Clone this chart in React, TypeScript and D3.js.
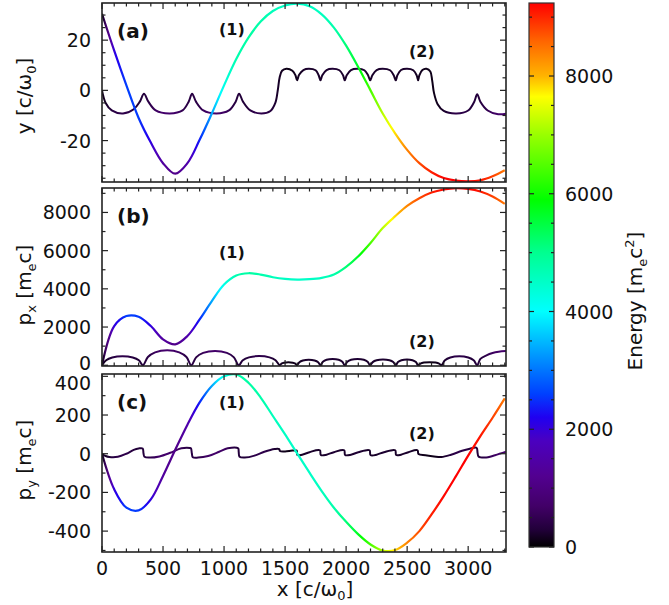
import React from 'react';
import * as d3 from 'd3';

// sample positions along x [c/w0] for particle (1)
const xGrid = [0, 100, 200, 300, 400, 500, 600, 700, 800, 900, 1000, 1100, 1200, 1300, 1400, 1500, 1600,
  1700, 1800, 1900, 2000, 2100, 2200, 2300, 2400, 2500, 2600, 2700, 2800, 2900, 3000, 3100, 3200, 3300];

// particle (1): y, px, py
const y1 = [30.5, 15.8, 2, -11, -20.8, -29, -33.2, -29, -19.7, -9.2, 2, 12.5, 21, 27.4, 31.6, 33.8, 34.5,
  33.5, 30.3, 25, 17.8, 9.2, 0, -9.2, -17, -23.7, -29, -32.6, -34.9, -35.9, -36.2, -35.8, -34.2, -31.8];
const px1 = [0, 2050, 2574, 2540, 2052, 1357, 1096, 1530, 2400, 3357, 4226, 4696, 4817, 4748, 4609, 4522, 4487,
  4504, 4574, 4748, 5148, 5704, 6400, 7183, 7791, 8348, 8748, 9043, 9200, 9270, 9235, 9096, 8835, 8452];
const py1 = [0, -184, -279, -293, -236, -115, 20, 150, 265, 350, 400, 410, 367, 290, 195, 100, 0,
  -98, -193, -279, -352, -417, -469, -500, -498, -460, -400, -314, -219, -116, -10, 91, 186, 286];

// particle (2): [x, value] pairs
const y2: [number, number][] = [
  [0, 0], [30, -5], [80, -8], [172, -9.2], [260, -7.5], [310, -4.5], [344, -1.3], [380, -4.5], [440, -8],
  [555, -9.2], [660, -8], [710, -4.5], [738, -1.3], [770, -4.5], [830, -8], [937, -9.2], [1040, -8],
  [1095, -4.5], [1123, -1.3], [1155, -4.5], [1215, -8], [1306, -9.2], [1380, -8.2], [1420, -5], [1440, 0],
  [1455, 5], [1475, 7.8], [1511, 8.6], [1560, 7.8], [1585, 6], [1598, 4], [1615, 6.2], [1650, 8.1],
  [1695, 8.6], [1750, 8], [1775, 6], [1790, 4], [1805, 6], [1840, 8.1], [1890, 8.6], [1945, 8], [1975, 6],
  [1989, 4], [2005, 6], [2040, 8.1], [2095, 8.6], [2150, 8], [2180, 6], [2197, 4], [2215, 6], [2250, 8.1],
  [2300, 8.6], [2360, 8], [2390, 6], [2407, 4], [2420, 6], [2450, 8.1], [2500, 8.6], [2550, 8], [2578, 6],
  [2590, 4], [2600, 6], [2625, 8.1], [2658, 8.6], [2690, 7.5], [2705, 4], [2720, -1], [2750, -5.5],
  [2800, -8.2], [2904, -9.2], [3000, -8], [3050, -4.5], [3074, -1.5], [3100, -4.5], [3160, -8],
  [3246, -9.5], [3310, -9.3]];

const px2: [number, number][] = [
  [0, 0], [34, 260], [84, 404], [168, 470], [252, 404], [302, 260], [336, 0],
  [376, 430], [435, 670], [534, 780], [633, 670], [692, 430], [732, 0],
  [771, 410], [829, 645], [926, 750], [1023, 645], [1081, 410], [1120, 0],
  [1154, 265], [1204, 413], [1288, 480], [1372, 413], [1422, 265], [1456, 0],
  [1470, 80], [1491, 130], [1527, 150], [1563, 130], [1584, 80], [1598, 0],
  [1617, 160], [1646, 250], [1694, 290], [1742, 250], [1771, 160], [1790, 0],
  [1810, 180], [1840, 285], [1890, 330], [1939, 285], [1969, 180], [1989, 0],
  [2010, 180], [2041, 285], [2093, 330], [2145, 285], [2176, 180], [2197, 0],
  [2218, 165], [2250, 258], [2302, 300], [2355, 258], [2386, 165], [2407, 0],
  [2425, 165], [2453, 258], [2499, 300], [2544, 258], [2572, 165], [2590, 0],
  [2609, 88], [2638, 138], [2686, 160], [2733, 138], [2762, 88], [2781, 0],
  [2810, 260], [2854, 404], [2928, 470], [3001, 404], [3045, 260], [3074, 0],
  [3100, 330], [3150, 520], [3200, 640], [3250, 705], [3310, 740]];

const py2: [number, number][] = [
  [0, 0], [30, -12], [60, -17], [130, -16], [200, 0], [260, 20], [300, 27], [333, 27], [340, 2], [348, -16],
  [390, -20], [470, -14], [560, 5], [650, 28], [720, 30], [729, 28], [736, 2], [744, -18], [787, -20],
  [870, -12], [960, 10], [1030, 28], [1115, 28], [1120, 10], [1127, -16], [1170, -20], [1250, -10],
  [1330, 10], [1415, 24], [1452, 24], [1458, 14], [1500, 12], [1560, 16], [1595, 16], [1601, -7],
  [1640, -5], [1700, 8], [1785, 18], [1793, -7], [1840, -5], [1900, 8], [1984, 18], [1992, -7],
  [2040, -5], [2100, 8], [2192, 18], [2200, -7], [2250, -5], [2310, 8], [2402, 18], [2410, -7],
  [2450, -5], [2510, 8], [2585, 18], [2593, -2], [2650, -8], [2720, -14], [2781, -17], [2860, -5],
  [2950, 15], [3040, 30], [3070, 30], [3077, 5], [3085, -14], [3137, -20], [3220, -8], [3310, 10]];

// axis ticks
const xTickLabels = [0, 500, 1000, 1500, 2000, 2500, 3000];
const yTicksA = [-20, 0, 20];
const yTicksB = [0, 2000, 4000, 6000, 8000];
const yTicksC = [-400, -200, 0, 200, 400];
const cbarTicks = [0, 2000, 4000, 6000, 8000];

// colour table (energy -> colour)
const cbarValues = [0, 300, 700, 1200, 1800, 2200, 2600, 3200, 4000, 5000, 5900, 7000, 7650, 8000, 8600, 9240];
const cbarColors = ['#000000', '#22003a', '#420068', '#520090', '#4b00c0', '#2000f0', '#0040ff', '#0090ff',
  '#00ffff', '#00ff90', '#00ff00', '#99ff00', '#ffff00', '#ffb400', '#ff6400', '#ff0000'];

const FONT = 'DejaVu Sans, Verdana, sans-serif';
const XMAX = 3310;

const interpAt = (pts: [number, number][], x: number) => {
  const i = d3.bisector((d: [number, number]) => d[0]).right(pts, x);
  if (i <= 0) return pts[0][1];
  if (i >= pts.length) return pts[pts.length - 1][1];
  const [x0, v0] = pts[i - 1];
  const [x1, v1] = pts[i];
  return v0 + ((v1 - v0) * (x - x0)) / (x1 - x0);
};

export default function App() {
  const xs = d3.scaleLinear().domain([0, XMAX]).range([102, 506]);
  const colorOf = d3.scaleLinear<string>().domain(cbarValues).range(cbarColors)
    .interpolate(d3.interpolateRgb).clamp(true);

  const p1x = xGrid.map((x, i) => [x, px1[i]] as [number, number]);
  const p1y = xGrid.map((x, i) => [x, py1[i]] as [number, number]);
  const energy1 = (x: number) => Math.sqrt(1 + interpAt(p1x, x) ** 2 + interpAt(p1y, x) ** 2);
  const energy2raw = (x: number) => Math.sqrt(1 + interpAt(px2, x) ** 2 + interpAt(py2, x) ** 2);
  // soften the colour so the cusps don't flash black
  const energy2 = (x: number) => d3.mean(d3.range(x - 80, x + 81, 10), (t) => energy2raw(t)) || 0;
  const stopXs = d3.range(0, XMAX + 1, 10);

  const panels = [
    { id: 'a', top: 3, bottom: 182, domain: [-36.5, 34.8], majors: yTicksA, minorStep: 5,
      c1: xGrid.map((x, i) => [x, y1[i]] as [number, number]), c2: y2,
      letter: '(a)', l1: 35, l2: 57, titleY: 96, title: ['y [c/\u03c9', '0', ']'] },
    { id: 'b', top: 188, bottom: 366, domain: [-40, 9280], majors: yTicksB, minorStep: 1000,
      c1: p1x, c2: px2, letter: '(b)', l1: 258, l2: 347, titleY: 285, title: ['p', 'x', ' [m', 'e', 'c]'] },
    { id: 'c', top: 374, bottom: 552, domain: [-508, 412], majors: yTicksC, minorStep: 100,
      c1: p1y, c2: py2, letter: '(c)', l1: 408, l2: 439, titleY: 460, title: ['p', 'y', ' [m', 'e', 'c]'] },
  ];

  const xMinor = d3.range(0, XMAX, 100);
  const cb = d3.scaleLinear().domain([0, 9240]).range([547, 3]);
  const cbMinor = d3.range(0, 9240, 500);

  return (
    <svg width={669} height={605} style={{ position: 'absolute', left: 0, top: 0, background: '#fff' }}
      fontFamily={FONT}>
      <defs>
        <linearGradient id="grad1" gradientUnits="userSpaceOnUse" x1={xs(0)} x2={xs(XMAX)} y1={0} y2={0}>
          {stopXs.map((x) => <stop key={x} offset={x / XMAX} stopColor={colorOf(energy1(x))} />)}
        </linearGradient>
        <linearGradient id="grad2" gradientUnits="userSpaceOnUse" x1={xs(0)} x2={xs(XMAX)} y1={0} y2={0}>
          {stopXs.map((x) => <stop key={x} offset={x / XMAX} stopColor={colorOf(energy2(x))} />)}
        </linearGradient>
        <linearGradient id="cbar" gradientUnits="userSpaceOnUse" x1={0} x2={0} y1={cb(0)} y2={cb(9240)}>
          {cbarValues.map((v, i) => <stop key={v} offset={v / 9240} stopColor={cbarColors[i]} />)}
        </linearGradient>
        {panels.map((p) => (
          <clipPath key={p.id} id={'clip-' + p.id}>
            <rect x={102} y={p.top} width={404} height={p.bottom - p.top} />
          </clipPath>
        ))}
      </defs>

      {panels.map((p) => {
        const ys = d3.scaleLinear().domain(p.domain).range([p.bottom, p.top]);
        const line = d3.line<[number, number]>().x((d) => xs(d[0])).y((d) => ys(d[1]))
          .curve(d3.curveCatmullRom.alpha(0.5));
        const yMinor = d3.range(Math.ceil(p.domain[0] / p.minorStep) * p.minorStep, p.domain[1], p.minorStep);
        const isMajorY = (v: number) => p.majors.includes(v);
        const isMajorX = (v: number) => v % 500 === 0;
        return (
          <g key={p.id}>
            <g clipPath={`url(#clip-${p.id})`}>
              <path d={line(p.c2) || ''} fill="none" stroke="url(#grad2)" strokeWidth={2} />
              <path d={line(p.c1) || ''} fill="none" stroke="url(#grad1)" strokeWidth={2.2} />
            </g>
            {/* x ticks, top and bottom */}
            {xMinor.map((v) => {
              const len = isMajorX(v) ? 6 : 3.5;
              return (
                <g key={'x' + v} stroke="#222" strokeWidth={1.2}>
                  <line x1={xs(v)} x2={xs(v)} y1={p.bottom} y2={p.bottom - len} />
                  <line x1={xs(v)} x2={xs(v)} y1={p.top} y2={p.top + len} />
                </g>
              );
            })}
            {/* y ticks, left and right */}
            {yMinor.map((v) => {
              const len = isMajorY(v) ? 6 : 3.5;
              return (
                <g key={'y' + v} stroke="#222" strokeWidth={1.2}>
                  <line x1={102} x2={102 + len} y1={ys(v)} y2={ys(v)} />
                  <line x1={506} x2={506 - len} y1={ys(v)} y2={ys(v)} />
                </g>
              );
            })}
            <rect x={102} y={p.top} width={404} height={p.bottom - p.top} fill="none" stroke="#222"
              strokeWidth={1.6} />
            {p.majors.map((v) => (
              <text key={'l' + v} x={91} y={Math.min(Math.max(ys(v), p.top + 9), p.bottom - 3)}
                textAnchor="end" dominantBaseline="central" fontSize={19} fill="#111">{v}</text>
            ))}
            <text x={117} y={p.top + 35} fontSize={20} fontWeight="bold" fill="#111">{p.letter}</text>
            <text x={219} y={p.l1} fontSize={16} fontWeight="bold" fill="#111">(1)</text>
            <text x={409} y={p.l2} fontSize={16} fontWeight="bold" fill="#111">(2)</text>
            <text transform={`translate(31,${p.titleY}) rotate(-90)`} textAnchor="middle" fontSize={20}
              fill="#111">
              {p.title.length === 3 ? (
                <>
                  {p.title[0]}
                  <tspan dy={5} fontSize={13}>{p.title[1]}</tspan>
                  <tspan dy={-5}>{p.title[2]}</tspan>
                </>
              ) : (
                <>
                  {p.title[0]}
                  <tspan dy={5} fontSize={13}>{p.title[1]}</tspan>
                  <tspan dy={-5}>{p.title[2]}</tspan>
                  <tspan dy={5} fontSize={13}>{p.title[3]}</tspan>
                  <tspan dy={-5}>{p.title[4]}</tspan>
                </>
              )}
            </text>
          </g>
        );
      })}

      {xTickLabels.map((v) => (
        <text key={'xl' + v} x={xs(v)} y={575} textAnchor="middle" fontSize={19} fill="#111">{v}</text>
      ))}
      <text x={315} y={596} textAnchor="middle" fontSize={20} fill="#111">
        x [c/{'\u03c9'}<tspan dy={4} fontSize={13}>0</tspan><tspan dy={-4}>]</tspan>
      </text>

      {/* colour bar */}
      <rect x={529} y={3} width={25} height={544} fill="url(#cbar)" stroke="#333" strokeWidth={1.2} />
      {cbMinor.map((v) => {
        const len = cbarTicks.includes(v) ? 5 : 3;
        return (
          <g key={'cb' + v} stroke="#222" strokeWidth={1.2}>
            <line x1={529} x2={529 + len} y1={cb(v)} y2={cb(v)} />
            <line x1={554} x2={554 - len} y1={cb(v)} y2={cb(v)} />
          </g>
        );
      })}
      {cbarTicks.map((v) => (
        <text key={'cbl' + v} x={565} y={cb(v)} dominantBaseline="central" fontSize={19} fill="#111">{v}</text>
      ))}
      <text transform="translate(642,301) rotate(-90)" textAnchor="middle" fontSize={20} fill="#111">
        Energy [m<tspan dy={5} fontSize={13}>e</tspan><tspan dy={-5}>c</tspan>
        <tspan dy={-8} fontSize={13}>2</tspan><tspan dy={8}>]</tspan>
      </text>
    </svg>
  );
}
